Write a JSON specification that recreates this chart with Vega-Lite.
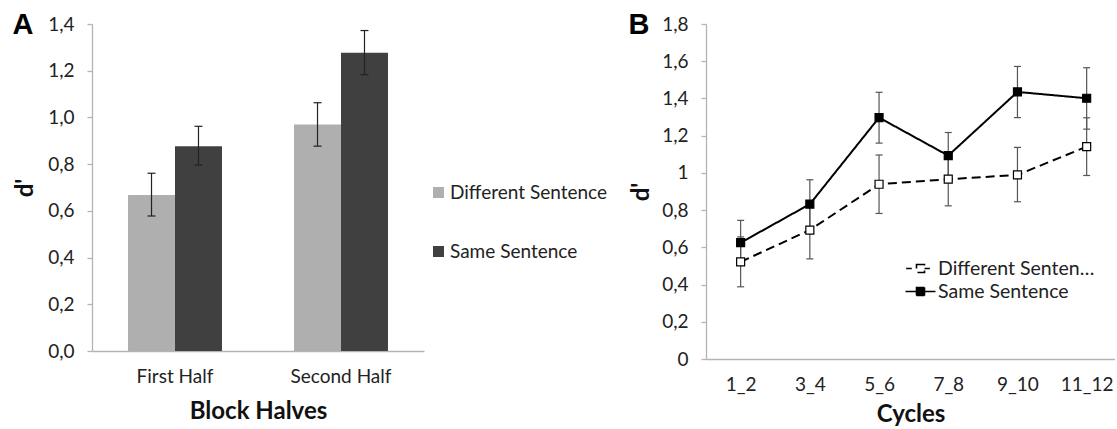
{
  "$schema": "https://vega.github.io/schema/vega-lite/v6.json",
  "padding": {"left": 12, "top": 10, "right": 0, "bottom": 0},
  "config": {
    "locale": {"number": {"decimal": ",", "thousands": ".", "grouping": [3], "currency": ["", "€"]}},
    "font": "Lato",
    "view": {"stroke": null},
    "axis": {"domainColor": "#B4B4B4", "domainWidth": 1.3, "tickColor": "#B4B4B4", "tickWidth": 1.3, "labelColor": "#222222", "labelFontSize": 19, "labelFont": "Lato", "titleFont": "Lato", "titleFontSize": 24, "titleFontWeight": "bold", "titleColor": "#111111", "grid": false, "labelOverlap": false},
    "legend": {"labelFont": "Lato", "labelColor": "#222222"},
    "concat": {"spacing": 21}
  },
  "resolve": {
    "scale": {"color": "independent", "fill": "independent", "strokeDash": "independent"},
    "legend": {"color": "independent", "fill": "independent", "strokeDash": "independent"}
  },
  "hconcat": [
    {
      "width": 332,
      "height": 327,
      "data": {"values": [
        {"half": "First Half", "cond": "Different Sentence", "d": 0.668, "lo": 0.578, "hi": 0.761},
        {"half": "First Half", "cond": "Same Sentence", "d": 0.877, "lo": 0.796, "hi": 0.962},
        {"half": "Second Half", "cond": "Different Sentence", "d": 0.970, "lo": 0.877, "hi": 1.063},
        {"half": "Second Half", "cond": "Same Sentence", "d": 1.277, "lo": 1.183, "hi": 1.372}
      ]},
      "encoding": {
        "x": {"field": "half", "type": "nominal", "sort": ["First Half", "Second Half"], "scale": {"paddingInner": 0.434, "paddingOuter": 0.217}, "axis": null},
        "xOffset": {"field": "cond", "type": "nominal", "sort": ["Different Sentence", "Same Sentence"], "scale": {"paddingInner": 0, "paddingOuter": 0}}
      },
      "layer": [
        {
          "mark": {"type": "bar"},
          "encoding": {
            "x": {"field": "half", "type": "nominal", "sort": ["First Half", "Second Half"], "axis": {"title": "Block Halves", "labelAngle": 0, "ticks": false, "labelPadding": 16, "titlePadding": 13}},
            "y": {"field": "d", "type": "quantitative", "scale": {"domain": [0, 1.4]}, "axis": {"title": "d'", "values": [0, 0.2, 0.4, 0.6, 0.8, 1.0, 1.2, 1.4], "format": ".1f", "tickSize": 5, "labelPadding": 13, "titlePadding": 10, "labelOverlap": false}},
            "color": {"field": "cond", "type": "nominal", "scale": {"domain": ["Different Sentence", "Same Sentence"], "range": ["#AFAFAF", "#404040"]},
              "legend": {"title": null, "orient": "none", "legendX": 337, "legendY": 159, "padding": 0, "symbolType": "square", "symbolSize": 121, "symbolStrokeWidth": 0, "symbolOpacity": 1, "labelFontSize": 19, "labelOffset": 2, "rowPadding": 39}}
          }
        },
        {
          "mark": {"type": "rule", "color": "#222222", "strokeWidth": 1.2},
          "encoding": {"y": {"field": "lo", "type": "quantitative", "axis": null}, "y2": {"field": "hi"}}
        },
        {
          "mark": {"type": "tick", "color": "#222222", "thickness": 1.2, "size": 8, "opacity": 1},
          "encoding": {"y": {"field": "lo", "type": "quantitative", "axis": null}}
        },
        {
          "mark": {"type": "tick", "color": "#222222", "thickness": 1.2, "size": 8, "opacity": 1},
          "encoding": {
            "x": {"field": "half", "type": "nominal", "sort": ["First Half", "Second Half"], "axis": {"orient": "top", "domain": false, "ticks": false, "labels": false, "title": "A", "titleX": -80, "titleY": 9.5, "titleAngle": 0, "titleAlign": "left", "titleBaseline": "alphabetic", "titleFontSize": 29, "titleFont": "Liberation Sans", "titleFontWeight": "bold", "titleColor": "#000000"}},
            "y": {"field": "hi", "type": "quantitative", "axis": null}
          }
        }
      ],
      "resolve": {"axis": {"x": "independent", "y": "independent"}}
    },
    {
      "width": 409,
      "height": 335,
      "data": {"values": [
        {"cycle": "1_2", "cond": "Different Sentence", "d": 0.522, "lo": 0.388, "hi": 0.656},
        {"cycle": "3_4", "cond": "Different Sentence", "d": 0.693, "lo": 0.538, "hi": 0.848},
        {"cycle": "5_6", "cond": "Different Sentence", "d": 0.939, "lo": 0.782, "hi": 1.096},
        {"cycle": "7_8", "cond": "Different Sentence", "d": 0.966, "lo": 0.823, "hi": 1.109},
        {"cycle": "9_10", "cond": "Different Sentence", "d": 0.989, "lo": 0.845, "hi": 1.137},
        {"cycle": "11_12", "cond": "Different Sentence", "d": 1.141, "lo": 0.986, "hi": 1.296},
        {"cycle": "1_2", "cond": "Same Sentence", "d": 0.625, "lo": 0.505, "hi": 0.745},
        {"cycle": "3_4", "cond": "Same Sentence", "d": 0.832, "lo": 0.700, "hi": 0.963},
        {"cycle": "5_6", "cond": "Same Sentence", "d": 1.297, "lo": 1.160, "hi": 1.433},
        {"cycle": "7_8", "cond": "Same Sentence", "d": 1.093, "lo": 0.970, "hi": 1.217},
        {"cycle": "9_10", "cond": "Same Sentence", "d": 1.435, "lo": 1.297, "hi": 1.572},
        {"cycle": "11_12", "cond": "Same Sentence", "d": 1.401, "lo": 1.235, "hi": 1.565}
      ]},
      "encoding": {
        "x": {"field": "cycle", "type": "ordinal", "sort": ["1_2", "3_4", "5_6", "7_8", "9_10", "11_12"], "scale": {"type": "point", "padding": 0.455, "align": 0.55}, "axis": null}
      },
      "layer": [
        {
          "mark": {"type": "line", "color": "#000000", "strokeWidth": 2},
          "encoding": {
            "x": {"field": "cycle", "type": "ordinal", "sort": ["1_2", "3_4", "5_6", "7_8", "9_10", "11_12"], "axis": {"title": "Cycles", "labelAngle": 0, "ticks": false, "labelPadding": 16, "titlePadding": 8}},
            "y": {"field": "d", "type": "quantitative", "scale": {"domain": [0, 1.8]}, "axis": {"title": "d'", "values": [0, 0.2, 0.4, 0.6, 0.8, 1, 1.2, 1.4, 1.6, 1.8], "format": ".1~f", "tickSize": 5, "labelPadding": 13, "titlePadding": 8, "labelOverlap": false, "labelSeparation": 0}},
            "strokeDash": {"field": "cond", "type": "nominal", "scale": {"domain": ["Different Sentence", "Same Sentence"], "range": [[9, 5], [1, 0]]},
              "legend": {"title": null, "orient": "none", "legendX": 201, "legendY": 231, "padding": 0, "symbolSize": 625, "symbolType": "M-1.2,0H1.2M-0.32,-0.32H0.32V0.32H-0.32Z", "symbolStrokeColor": "#000000", "symbolStrokeWidth": 1.6, "symbolOpacity": 1, "labelFontSize": 19.5, "labelOffset": 4, "rowPadding": 0,
                "encode": {"symbols": {"update": {
                  "shape": [{"test": "datum.value === 'Same Sentence'", "value": "M-1.2,0H1.2M-0.32,-0.32H0.32V0.32H-0.32Z"}, {"value": "M-1.15,0H-0.7M-0.32,-0.32H0.32V0.32H-0.32ZM0.32,0H0.75"}],
                  "fill": [{"test": "datum.value === 'Same Sentence'", "value": "#000000"}, {"value": "#FFFFFF"}],
                  "stroke": {"value": "#000000"},
                  "strokeDash": {"value": [1, 0]},
                  "strokeWidth": {"value": 1.6},
                  "opacity": {"value": 1}
                }}}}
            }
          }
        },
        {
          "mark": {"type": "rule", "color": "#555555", "strokeWidth": 1.2},
          "encoding": {"y": {"field": "lo", "type": "quantitative", "axis": null}, "y2": {"field": "hi"}}
        },
        {
          "mark": {"type": "tick", "color": "#555555", "thickness": 1.2, "size": 7, "opacity": 1},
          "encoding": {"y": {"field": "lo", "type": "quantitative", "axis": null}}
        },
        {
          "mark": {"type": "tick", "color": "#555555", "thickness": 1.2, "size": 7, "opacity": 1},
          "encoding": {"y": {"field": "hi", "type": "quantitative", "axis": null}}
        },
        {
          "mark": {"type": "point", "shape": "square", "size": 64, "filled": true, "stroke": "#000000", "strokeWidth": 1.2, "opacity": 1},
          "encoding": {
            "x": {"field": "cycle", "type": "ordinal", "sort": ["1_2", "3_4", "5_6", "7_8", "9_10", "11_12"], "axis": {"orient": "top", "domain": false, "ticks": false, "labels": false, "title": "B", "titleX": -78, "titleY": 9.5, "titleAngle": 0, "titleAlign": "left", "titleBaseline": "alphabetic", "titleFontSize": 29, "titleFont": "Liberation Sans", "titleFontWeight": "bold", "titleColor": "#000000"}},
            "y": {"field": "d", "type": "quantitative", "axis": null},
            "fill": {"field": "cond", "type": "nominal", "scale": {"domain": ["Different Sentence", "Same Sentence"], "range": ["#FFFFFF", "#000000"]}, "legend": null}
          }
        }
      ],
      "resolve": {"axis": {"x": "independent", "y": "independent"}}
    }
  ]
}
